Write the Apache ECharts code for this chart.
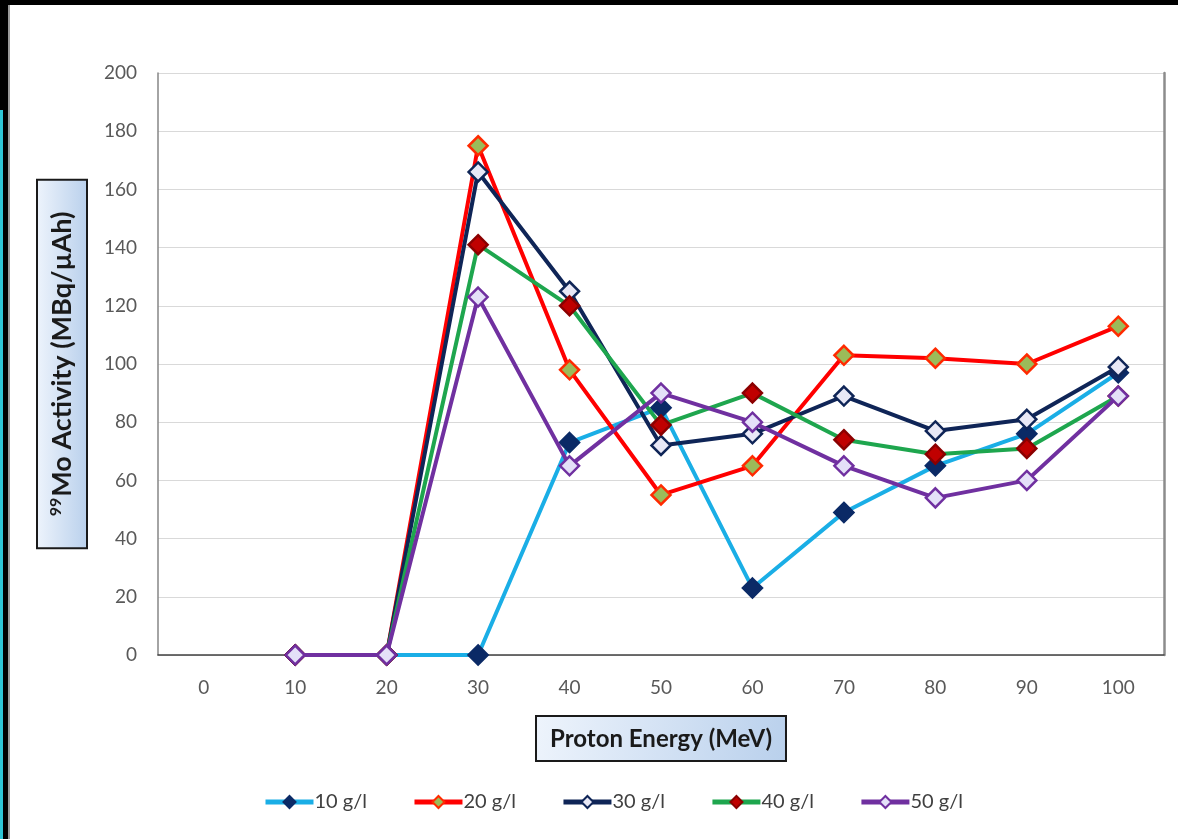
<!DOCTYPE html>
<html><head><meta charset="utf-8">
<script src="https://cdn.jsdelivr.net/npm/echarts@6/dist/echarts.min.js"></script>
<style>
html,body{margin:0;padding:0;background:#000;width:1178px;height:839px;overflow:hidden;position:relative}
#cyan{position:absolute;left:0;top:110px;width:3px;height:729px;background:#2fc6d6}
#edge{position:absolute;left:8px;top:5px;width:2px;height:834px;background:#9a9a9a}
#paper{position:absolute;left:10px;top:5px;right:0;bottom:0;background:#fff}
#chart{position:absolute;left:0;top:0;width:1178px;height:839px}
</style></head>
<body>
<div id="cyan"></div><div id="edge"></div><div id="paper"></div>
<div id="chart"></div>
<script>
const categories = ['0','10','20','30','40','50','60','70','80','90','100'];
const seriesNames = ['10 g/l','20 g/l','30 g/l','40 g/l','50 g/l'];
const s10 = [null,0,0,0,73,85,23,49,65,76,97];
const s20 = [null,0,0,175,98,55,65,103,102,100,113];
const s30 = [null,0,0,166,125,72,76,89,77,81,99];
const s40 = [null,0,0,141,120,79,90,74,69,71,89];
const s50 = [null,0,0,123,65,90,80,65,54,60,89];
const yMin = 0, yMax = 200, yStep = 20;

const styles = [
  {line:'#1aaee6', fill:'#0b2a66', border:'#0b2a66'},
  {line:'#ff0000', fill:'#9bbb59', border:'#ff2a00'},
  {line:'#0f2557', fill:'#e8e8f6', border:'#0f2557'},
  {line:'#1ea64e', fill:'#c00000', border:'#8b0000'},
  {line:'#7030a0', fill:'#e4e0f8', border:'#7030a0'}
];
const values = [s10,s20,s30,s40,s50];
const font = 'Lato, "Open Sans", sans-serif';

const chart = echarts.init(document.getElementById('chart'), null, {renderer:'canvas'});
chart.setOption({
  backgroundColor:'transparent',
  animation:false,
  grid:{left:158, right:14, top:73, bottom:184},
  legend:{
    bottom:22, left:258, itemWidth:48, itemHeight:15, itemGap:45,
    lineStyle:{width:5},
    textStyle:{fontFamily:font, fontSize:20, color:'#404040', padding:[0,0,0,-4]},
    data:seriesNames
  },
  xAxis:[{
    type:'category', data:categories, boundaryGap:true,
    axisLine:{show:true, lineStyle:{color:'#d9d9d9', width:1}},
    axisTick:{show:false},
    axisLabel:{fontFamily:font, fontSize:19, color:'#595959', margin:23},
    name:'Proton Energy (MeV)', nameLocation:'middle', nameGap:62,
    nameTextStyle:{
      fontFamily:font, fontSize:24, fontWeight:'bold', color:'#1a1a1a',
      verticalAlign:'top',
      padding:[10,13,9,13], borderColor:'#1a1a1a', borderWidth:2,
      backgroundColor:{type:'linear',x:0,y:0,x2:1,y2:1,colorStops:[{offset:0,color:'#eef4fc'},{offset:1,color:'#b9d0ec'}]}
    }
  },{
    type:'category', data:categories, position:'top',
    axisLine:{show:true, lineStyle:{color:'#404040', width:1.5}},
    axisTick:{show:false}, axisLabel:{show:false}, splitLine:{show:false}
  }],
  yAxis:[{
    type:'value', min:yMin, max:yMax, interval:yStep,
    axisLine:{show:true, lineStyle:{color:'#868686', width:1.5}},
    axisTick:{show:false},
    axisLabel:{fontFamily:font, fontSize:19, color:'#595959', margin:21},
    splitLine:{lineStyle:{color:'#d9d9d9', width:1}},
    name:'{sup|99}{b|Mo Activity (MBq/µAh)}', nameLocation:'middle', nameGap:72, nameRotate:90,
    nameTextStyle:{
      fontFamily:font, fontSize:27, fontWeight:'bold', color:'#1a1a1a',
      padding:[10,31,10,31], borderColor:'#1a1a1a', borderWidth:2,
      backgroundColor:{type:'linear',x:0,y:1,x2:0,y2:0,colorStops:[{offset:0,color:'#b9d0ec'},{offset:1,color:'#eef4fc'}]},
      rich:{
        sup:{fontFamily:font, fontSize:16, fontWeight:'bold', color:'#1a1a1a', verticalAlign:'top', padding:[0,1,12,0]},
        b:{fontFamily:font, fontSize:27, fontWeight:'bold', color:'#1a1a1a'}
      }
    }
  },{
    type:'value', min:yMin, max:yMax, interval:yStep, position:'right',
    axisLine:{show:true, lineStyle:{color:'#8c8c8c', width:2.5}},
    axisTick:{show:false}, axisLabel:{show:false}, splitLine:{show:false}
  }],
  series: seriesNames.map((n,i)=>({
    name:n, type:'line', data:values[i], symbol:'diamond', symbolSize:19,
    connectNulls:false,
    lineStyle:{color:styles[i].line, width:4},
    itemStyle:{color:styles[i].fill, borderColor:styles[i].border, borderWidth:2.5},
    z:2+i
  }))
});
</script>
</body></html>
